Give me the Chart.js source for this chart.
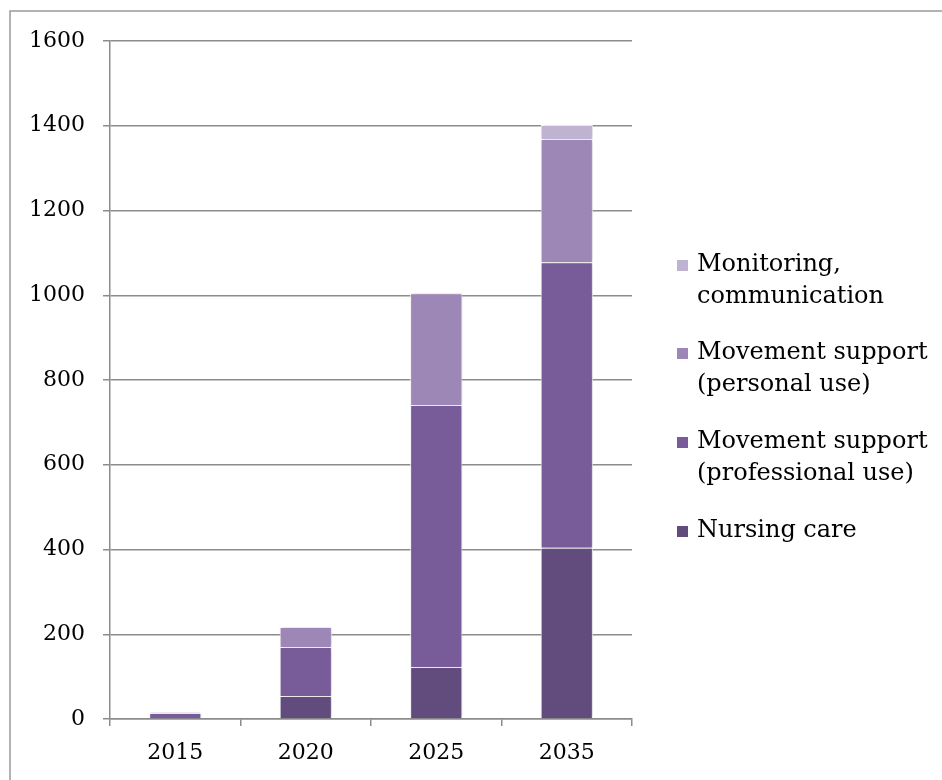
<!DOCTYPE html>
<html>
<head>
<meta charset="utf-8">
<script src="https://cdn.jsdelivr.net/npm/chart.js@4.4.1/dist/chart.umd.min.js"></script>
<style>
  html, body { margin: 0; padding: 0; background: #fff; overflow: hidden; }
  #wrap { position: relative; width: 942px; height: 780px; }
</style>
</head>
<body>
<div id="wrap"><canvas id="chart" width="942" height="780"></canvas></div>
<script>
const years = ['2015', '2020', '2025', '2035'];
const nursingCare = [2, 54, 123, 404];
const professionalUse = [12, 116, 618, 674];
const personalUse = [2, 47, 264, 291];
const monitoring = [0, 0, 0, 33];
const yTicks = [0, 200, 400, 600, 800, 1000, 1200, 1400, 1600];

const FONT = '"DejaVu Serif", serif';
const GRID = '#8c8c8c';

// legend entries, top to bottom (reverse of stacking order)
const legendItems = [
  { lines: ['Monitoring,', 'communication'], color: '#bfb3d1' },
  { lines: ['Movement support', '(personal use)'], color: '#9c87b6' },
  { lines: ['Movement support', '(professional use)'], color: '#785c9a' },
  { lines: ['Nursing care'], color: '#624c7e' },
];

const frameAndLegend = {
  id: 'frameAndLegend',
  beforeDraw(chart) {
    const ctx = chart.ctx;
    ctx.save();
    ctx.strokeStyle = '#999';
    ctx.lineWidth = 1.5;
    ctx.strokeRect(10, 11, 1200, 1200);
    ctx.restore();
  },
  beforeDatasetsDraw(chart) {
    const ctx = chart.ctx;
    ctx.save();
    ctx.shadowColor = 'rgba(0,0,0,0.22)';
    ctx.shadowBlur = 4;
    ctx.shadowOffsetX = 1;
  },
  afterDatasetsDraw(chart) {
    chart.ctx.restore();
  },
  afterDraw(chart) {
    const ctx = chart.ctx;
    const x0 = chart.chartArea.right + 45;
    const starts = [265, 353, 442, 531];
    ctx.save();
    ctx.font = '24px ' + FONT;
    ctx.textBaseline = 'middle';
    legendItems.forEach((it, i) => {
      const y = starts[i];
      ctx.fillStyle = it.color;
      ctx.fillRect(x0, y - 5, 11, 11);
      ctx.fillStyle = '#000';
      it.lines.forEach((ln, j) => ctx.fillText(ln, x0 + 20, y + j * 32));
    });
    ctx.restore();
  }
};

const ds = (label, data, color) => ({
  label, data,
  backgroundColor: color,
  borderColor: '#fff',
  borderWidth: 1,
  barPercentage: 0.4,
  categoryPercentage: 1,
});

new Chart(document.getElementById('chart'), {
  type: 'bar',
  data: {
    labels: years,
    datasets: [
      ds('Nursing care', nursingCare, '#624c7e'),
      ds('Movement support (professional use)', professionalUse, '#785c9a'),
      ds('Movement support (personal use)', personalUse, '#9c87b6'),
      ds('Monitoring, communication', monitoring, '#bfb3d1'),
    ]
  },
  options: {
    responsive: false,
    animation: false,
    layout: { padding: { left: 0, top: 41, right: 310, bottom: 0 } },
    plugins: { legend: { display: false }, tooltip: { enabled: false } },
    scales: {
      x: {
        stacked: true,
        grid: { drawOnChartArea: false, color: GRID, lineWidth: 1.5, tickLength: 7, offset: true },
        border: { color: GRID, width: 1.5 },
        ticks: { color: '#000', font: { family: FONT, size: 22 }, padding: 14 },
        afterFit(s) { s.height = 61; }
      },
      y: {
        stacked: true,
        min: 0, max: 1600,
        afterBuildTicks(s) { s.ticks = yTicks.map(v => ({ value: v })); },
        grid: { color: GRID, lineWidth: 1.5, tickLength: 7 },
        border: { color: GRID, width: 1.5 },
        ticks: { color: '#000', font: { family: FONT, size: 22 }, padding: 18, callback: v => String(v) },
        afterFit(s) { s.width = 110; }
      }
    }
  },
  plugins: [frameAndLegend]
});
</script>
</body>
</html>
